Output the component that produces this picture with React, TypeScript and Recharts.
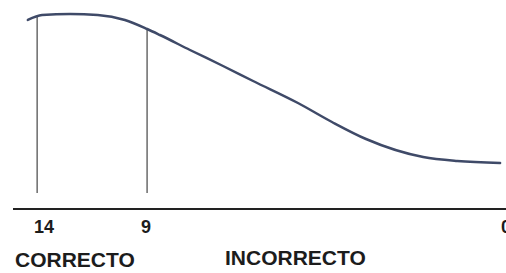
import { LineChart, Line, XAxis, YAxis, ReferenceLine } from 'recharts';

// horizontal position along the axis (0 = left end, 100 = right end)
const curveX = [3.0, 5.9, 11.6, 17.2, 22.7, 27.2, 29.8, 35.9, 42.6, 48.7, 57.8, 64.7, 71.6, 83.2, 90.1, 98.8];
// height of the curve above the baseline (0-100)
const curveY = [94.5, 97, 97.5, 97, 94.5, 90, 87, 79.5, 71.5, 64, 53, 43.5, 35, 26, 24, 23];

// vertical markers dropped from the curve
const markerX = [4.9, 27.2];
const markerTop = [96.2, 90];
const markerBottom = 8;

const tickPositions = [6.3, 27.0, 100];
const tickLabels = ['14', '9', '0'];

const regionLabels = ['CORRECTO', 'INCORRECTO'];

const data = curveX.map((x, i) => ({ x, y: curveY[i] }));

const FONT = '"Liberation Sans", Arial, sans-serif';

const Tick = (props: any) => {
  const { x, y, index } = props;
  return (
    <text
      x={x}
      y={y + 24}
      textAnchor="middle"
      fill="#1c1c1c"
      fontFamily={FONT}
      fontWeight={700}
      fontSize={18}
    >
      {tickLabels[index]}
    </text>
  );
};

const labelStyle = {
  position: 'absolute' as const,
  fontFamily: FONT,
  fontWeight: 700,
  fontSize: 21,
  lineHeight: '21px',
  color: '#1c1c1c',
  whiteSpace: 'nowrap' as const,
};

export default function App() {
  return (
    <div style={{ position: 'absolute', left: 0, top: 0, width: 506, height: 273, background: '#fff', overflow: 'hidden' }}>
      <LineChart width={506} height={273} data={data} margin={{ top: 9, right: 0, bottom: 34, left: 13 }}>
        <XAxis
          dataKey="x"
          type="number"
          domain={[0, 100]}
          ticks={tickPositions}
          tick={<Tick />}
          tickLine={false}
          tickSize={0}
          tickMargin={0}
          height={30}
          axisLine={{ stroke: '#222', strokeWidth: 2 }}
          interval={0}
        />
        <YAxis hide domain={[0, 100]} />
        {markerX.map((mx, i) => (
          <ReferenceLine
            key={i}
            segment={[
              { x: mx, y: markerBottom },
              { x: mx, y: markerTop[i] },
            ]}
            stroke="#6a6a6a"
            strokeWidth={1.5}
          />
        ))}
        <Line
          type="monotone"
          dataKey="y"
          stroke="#3f4a68"
          strokeWidth={2.5}
          strokeLinecap="round"
          dot={false}
          isAnimationActive={false}
        />
      </LineChart>
      <div style={{ ...labelStyle, left: 15, top: 249 }}>{regionLabels[0]}</div>
      <div style={{ ...labelStyle, left: 225, top: 247 }}>{regionLabels[1]}</div>
    </div>
  );
}
